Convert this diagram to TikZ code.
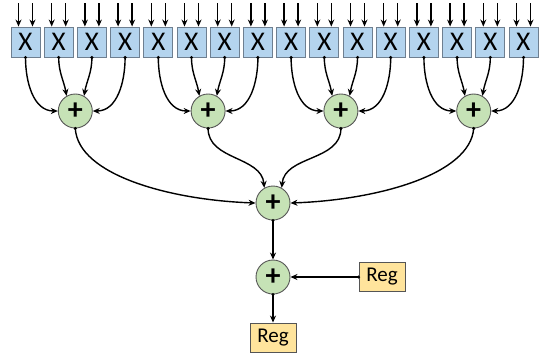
\documentclass[tikz,border=0pt]{standalone}
\usepackage{fontspec}
\setmainfont{Carlito}
\usetikzlibrary{arrows.meta}
\definecolor{mulfill}{HTML}{B4D4EE}
\definecolor{mulline}{HTML}{6E7F90}
\definecolor{addfill}{HTML}{C6E2B6}
\definecolor{regfill}{HTML}{FFE49C}
\definecolor{edgegray}{HTML}{555555}
\tikzset{
  mulbox/.style={draw=mulline, fill=mulfill, line width=0.9pt, minimum width=29pt, minimum height=30pt, inner sep=0pt, font=\fontsize{27}{27}\selectfont},
  adder/.style={circle, draw=edgegray, fill=addfill, line width=0.9pt, minimum size=34pt, inner sep=0pt, font=\fontsize{30}{30}\selectfont\bfseries},
  regbox/.style={draw=edgegray, fill=regfill, line width=0.9pt, minimum width=46pt, minimum height=29pt, inner sep=0pt, font=\fontsize{21}{21}\selectfont},
  wire/.style={line width=1.4pt, -{Stealth[length=7pt,width=6pt]}},
  tapdot/.style={fill=black}
}
% a wire that leaves its source through a small dot
\newcommand{\tapwire}[3]{%
  \draw[wire] (#1) #2 (#3);
  \fill[tapdot] (#1) circle (1.7pt);}
\begin{document}
\begin{tikzpicture}[x=1pt,y=-1pt]
  \useasboundingbox (0,0) rectangle (541,354);
  % multipliers with their two inputs each
  \foreach \i in {0,...,15} {
    \pgfmathsetmacro{\cx}{25.5+33.2*\i}
    \node[mulbox] (m\i) at (\cx,42) {\raisebox{-3pt}{X}};
    \coordinate (inA\i) at (\cx-7,3);
    \coordinate (inB\i) at (\cx+7,3);
    \draw[wire] (inA\i) -- (inA\i |- m\i.north);
    \draw[wire] (inB\i) -- (inB\i |- m\i.north);
  }
  % first-level adders, one per group of four
  \foreach \g in {0,...,3} {
    \pgfmathsetmacro{\ax}{25.5+33.2*(4*\g+1.5)}
    \node[adder] (a\g) at (\ax,111) {+};
  }
  \foreach \g in {0,...,3} {
    \pgfmathtruncatemacro{\p}{4*\g}
    \pgfmathtruncatemacro{\q}{4*\g+1}
    \pgfmathtruncatemacro{\r}{4*\g+2}
    \pgfmathtruncatemacro{\s}{4*\g+3}
    \tapwire{m\p.south}{to[out=-90,in=180]}{a\g.west}
    \tapwire{m\q.south}{to[out=-90,in=100]}{a\g.120}
    \tapwire{m\r.south}{to[out=-90,in=80]}{a\g.60}
    \tapwire{m\s.south}{to[out=-90,in=0]}{a\g.east}
  }
  % summing tree root
  \node[adder] (sum) at (273,203) {+};
  \node[adder] (acc) at (273,277) {+};
  \node[regbox] (regin) at (382,277) {Reg};
  \node[regbox] (regout) at (273,337.5) {Reg};
  \tapwire{a0.south}{.. controls (78,175) and (170,200) ..}{sum.west}
  \tapwire{a1.south}{to[out=-90,in=95]}{sum.120}
  \tapwire{a2.south}{to[out=-90,in=85]}{sum.60}
  \tapwire{a3.south}{.. controls (470,175) and (376,200) ..}{sum.east}
  \tapwire{sum.south}{--}{acc.north}
  \tapwire{regin.west}{--}{acc.east}
  \tapwire{acc.south}{--}{regout.north}
\end{tikzpicture}
\end{document}
